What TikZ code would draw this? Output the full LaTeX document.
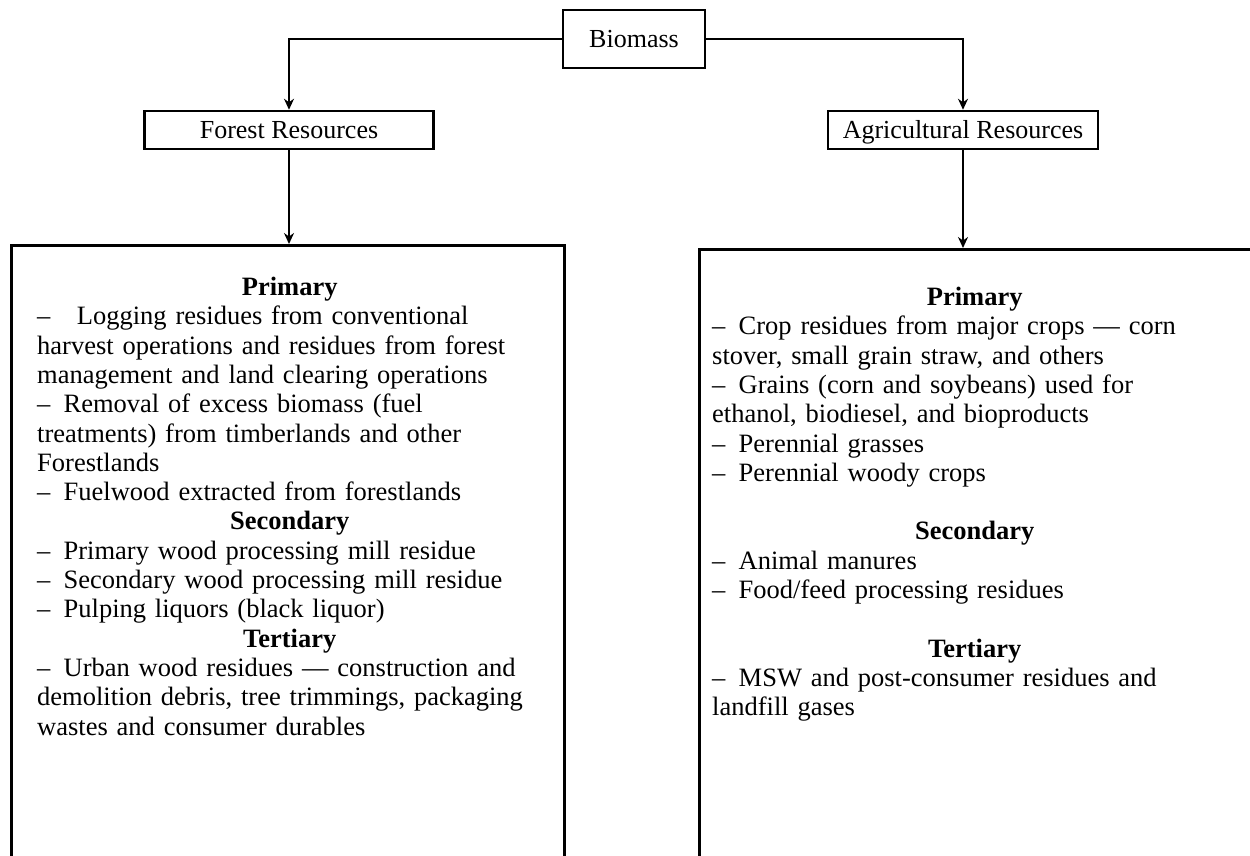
\documentclass[tikz,border=0pt]{standalone}
\usepackage{fontspec}
\setmainfont{Liberation Serif}
\usetikzlibrary{positioning,arrows.meta}
\tikzset{>={Stealth[length=11pt,width=10pt]}}
\tikzset{
  headbox/.style={draw,line width=2.5pt,minimum height=38pt,inner sep=0pt,text height=17pt,text depth=0pt,font=\fontsize{26}{29}\selectfont},
  listbox/.style={draw,line width=2.5pt,anchor=north west,inner sep=0pt},
  listtext/.style={anchor=north west,inner sep=0pt,text width=#1,font=\fontsize{26.5}{29.3}\selectfont},
  link/.style={->,line width=2.5pt}
}

\begin{document}
\begin{tikzpicture}[x=1pt,y=-1pt]
\useasboundingbox (0,0) rectangle (1250,856);
    \node[headbox,minimum width=142pt,minimum height=58pt] (biomass) at (634,39) {Biomass};
    \node[headbox,minimum width=289pt] (forest) at (289,130) {Forest Resources};
    \node[headbox,minimum width=270pt] (agri) at (963,130) {Agricultural Resources};
    \node[listbox,minimum width=553pt,minimum height=700pt] (forestlist) at (10,244) {};
    \node[listbox,minimum width=600pt,minimum height=700pt] (agrilist) at (698,248) {};
    % links
    \draw[link] (biomass.west) -| (forest.north);
    \draw[link] (biomass.east) -| (agri.north);
    \draw[link] (forest.south) -- (forest.south |- forestlist.north);
    \draw[link] (agri.south) -- (agri.south |- agrilist.north);
    % forest items
    \node[listtext=505pt] (foresttext) at ([xshift=27pt,yshift=-33pt]forestlist.north west) {\raggedright
\centerline{\textbf{Primary}}
–\enspace\enspace Logging residues from conventional\\
harvest operations and residues from forest\\
management and land clearing operations\\
–\enspace Removal of excess biomass (fuel\\
treatments) from timberlands and other\\
Forestlands\\
–\enspace Fuelwood extracted from forestlands\par
\centerline{\textbf{Secondary}}
–\enspace Primary wood processing mill residue\\
–\enspace Secondary wood processing mill residue\\
–\enspace Pulping liquors (black liquor)\par
\centerline{\textbf{Tertiary}}
–\enspace Urban wood residues — construction and\\
demolition debris, tree trimmings, packaging\\
wastes and consumer durables};
    % agricultural items
    \node[listtext=525pt] (agritext) at ([xshift=14pt,yshift=-39pt]agrilist.north west) {\raggedright
\centerline{\textbf{Primary}}
–\enspace Crop residues from major crops — corn\\
stover, small grain straw, and others\\
–\enspace Grains (corn and soybeans) used for\\
ethanol, biodiesel, and bioproducts\\
–\enspace Perennial grasses\\
–\enspace Perennial woody crops\par
\centerline{}
\centerline{\textbf{Secondary}}
–\enspace Animal manures\\
–\enspace Food/feed processing residues\par
\centerline{}
\centerline{\textbf{Tertiary}}
–\enspace MSW and post-consumer residues and\\
landfill gases};
\end{tikzpicture}
\end{document}
